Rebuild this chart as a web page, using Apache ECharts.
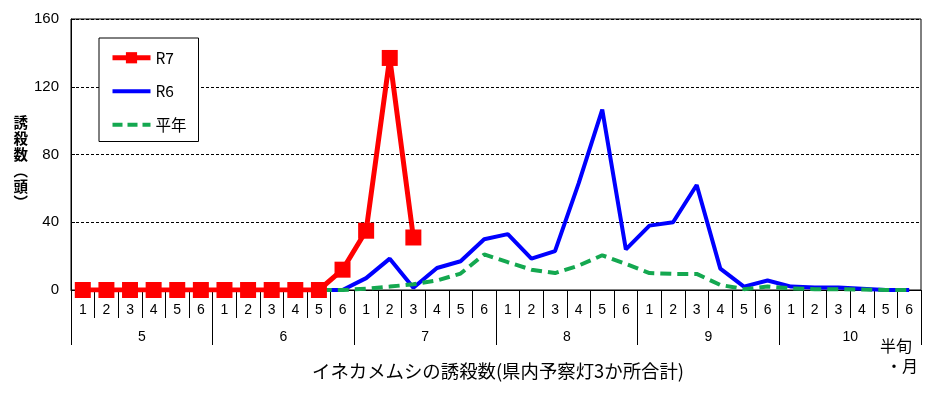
<!DOCTYPE html>
<html>
<head>
<meta charset="utf-8">
<script src="https://cdn.jsdelivr.net/npm/echarts@6/dist/echarts.min.js"></script>
<style>
html,body{margin:0;padding:0;background:#fff;}
#chart{width:935px;height:394px;}
</style>
</head>
<body>
<div id="chart"></div>
<script>
// 半旬 labels (36 = 6 months x 6 half-decades)
const halfLabels = [
  '1','2','3','4','5','6', '1','2','3','4','5','6', '1','2','3','4','5','6',
  '1','2','3','4','5','6', '1','2','3','4','5','6', '1','2','3','4','5','6'
];
const monthLabels = ['5','6','7','8','9','10'];
const yTicks = [0, 40, 80, 120, 160];

const r7 = [0,0,0,0,0,0, 0,0,0,0,0,12, 35,137,31];
const r6 = [0,0,0,0,0,0, 0,0,0,0,0,0, 7,18.5,1.3,13,17,30, 33,18.5,23,63,106.5,24, 38,40,62,12.6,2,5.6, 2,1.5,1.5,0.8,0,0];
const heinen = [0,0,0,0,0,0, 0,0,0,0,0,0, 0.8,2,3.4,5.6,9.7,21, 16.4,12,10,14.4,20.5,15.4, 10,9.5,9.5,3,0.5,2, 1,0.5,0.5,0.3,0,0];

const jp = '"Noto Sans CJK JP", sans-serif';
const lat = '"Liberation Sans", Arial, sans-serif';

const chart = echarts.init(document.getElementById('chart'), null, {renderer: 'canvas'});
chart.setOption({
  animation: false,
  backgroundColor: '#fff',
  title: [
    {text: 'イネカメムシの誘殺数(県内予察灯3か所合計)', left: 312, top: 362, padding: 0,
     textStyle: {fontFamily: jp, fontSize: 18.4, fontWeight: 'normal', color: '#000'}},
    {text: '半旬', left: 880, top: 338, padding: 0,
     textStyle: {fontFamily: jp, fontSize: 16, fontWeight: 'normal', color: '#000'}},
    {text: '・月', left: 886, top: 358, padding: 0,
     textStyle: {fontFamily: jp, fontSize: 16, fontWeight: 'normal', color: '#000'}}
  ],
  legend: {
    orient: 'vertical', left: 99, top: 38,
    data: [
      {name: 'R7', lineStyle: {color: '#ff0000', width: 5}},
      {name: 'R6', itemStyle: {opacity: 0}, lineStyle: {color: '#0000ff', width: 4, opacity: 1}},
      {name: '平年', itemStyle: {opacity: 0}, lineStyle: {color: '#14a850', width: 4, type: [10, 5], opacity: 1}}
    ],
    itemWidth: 38, itemHeight: 14, itemGap: 18,
    padding: [12, 12, 9, 11],
    borderColor: '#000', borderWidth: 1, backgroundColor: '#fff',
    textStyle: {fontFamily: jp, fontSize: 15.5, color: '#000'}
  },
  grid: {left: 71, right: 14, top: 19, bottom: 104, show: true, borderColor: '#000', borderWidth: 1, backgroundColor: 'transparent'},
  xAxis: [
    {
      type: 'category', data: halfLabels, position: 'bottom', boundaryGap: true,
      axisLine: {show: true, lineStyle: {color: '#000', width: 1}},
      axisTick: {show: true, interval: 0, length: 28, lineStyle: {color: '#000', width: 1}},
      axisLabel: {interval: 0, margin: 13, fontFamily: lat, fontSize: 14, color: '#000'},
      splitLine: {show: false}
    },
    {
      type: 'category', data: monthLabels, position: 'bottom', boundaryGap: true,
      axisLine: {show: false},
      axisTick: {show: true, interval: 0, length: 55, lineStyle: {color: '#000', width: 1}},
      axisLabel: {interval: 0, margin: 40, fontFamily: lat, fontSize: 14, color: '#000'},
      splitLine: {show: false}
    }
  ],
  yAxis: {
    type: 'value', min: yTicks[0], max: yTicks[yTicks.length - 1], interval: 40,
    name: '\n誘\n殺\n数\n︵\n頭\n︶', nameLocation: 'middle', nameGap: 43, nameRotate: 0,
    nameTextStyle: {fontFamily: jp, fontSize: 14.5, fontWeight: 'bold', lineHeight: 16, color: '#000'},
    axisLine: {show: true, lineStyle: {color: '#000', width: 1}},
    axisTick: {show: true, inside: true, length: 4, lineStyle: {color: '#000'}},
    axisLabel: {margin: 12, fontFamily: lat, fontSize: 15, color: '#000'},
    splitLine: {show: true, lineStyle: {color: '#000', width: 1, type: [3, 2]}}
  },
  series: [
    {
      name: 'R6', type: 'line', data: r6, symbol: 'none', z: 2,
      lineStyle: {color: '#0000ff', width: 4}, itemStyle: {color: '#0000ff'},
      emphasis: {disabled: true}
    },
    {
      name: '平年', type: 'line', data: heinen, symbol: 'none', z: 3,
      lineStyle: {color: '#14a850', width: 4, type: [11, 6]}, itemStyle: {color: '#14a850'},
      emphasis: {disabled: true}
    },
    {
      name: 'R7', type: 'line', data: r7, symbol: 'rect', symbolSize: 16, z: 4,
      lineStyle: {color: '#ff0000', width: 5}, itemStyle: {color: '#ff0000'},
      emphasis: {disabled: true}
    }
  ]
});
</script>
</body>
</html>
